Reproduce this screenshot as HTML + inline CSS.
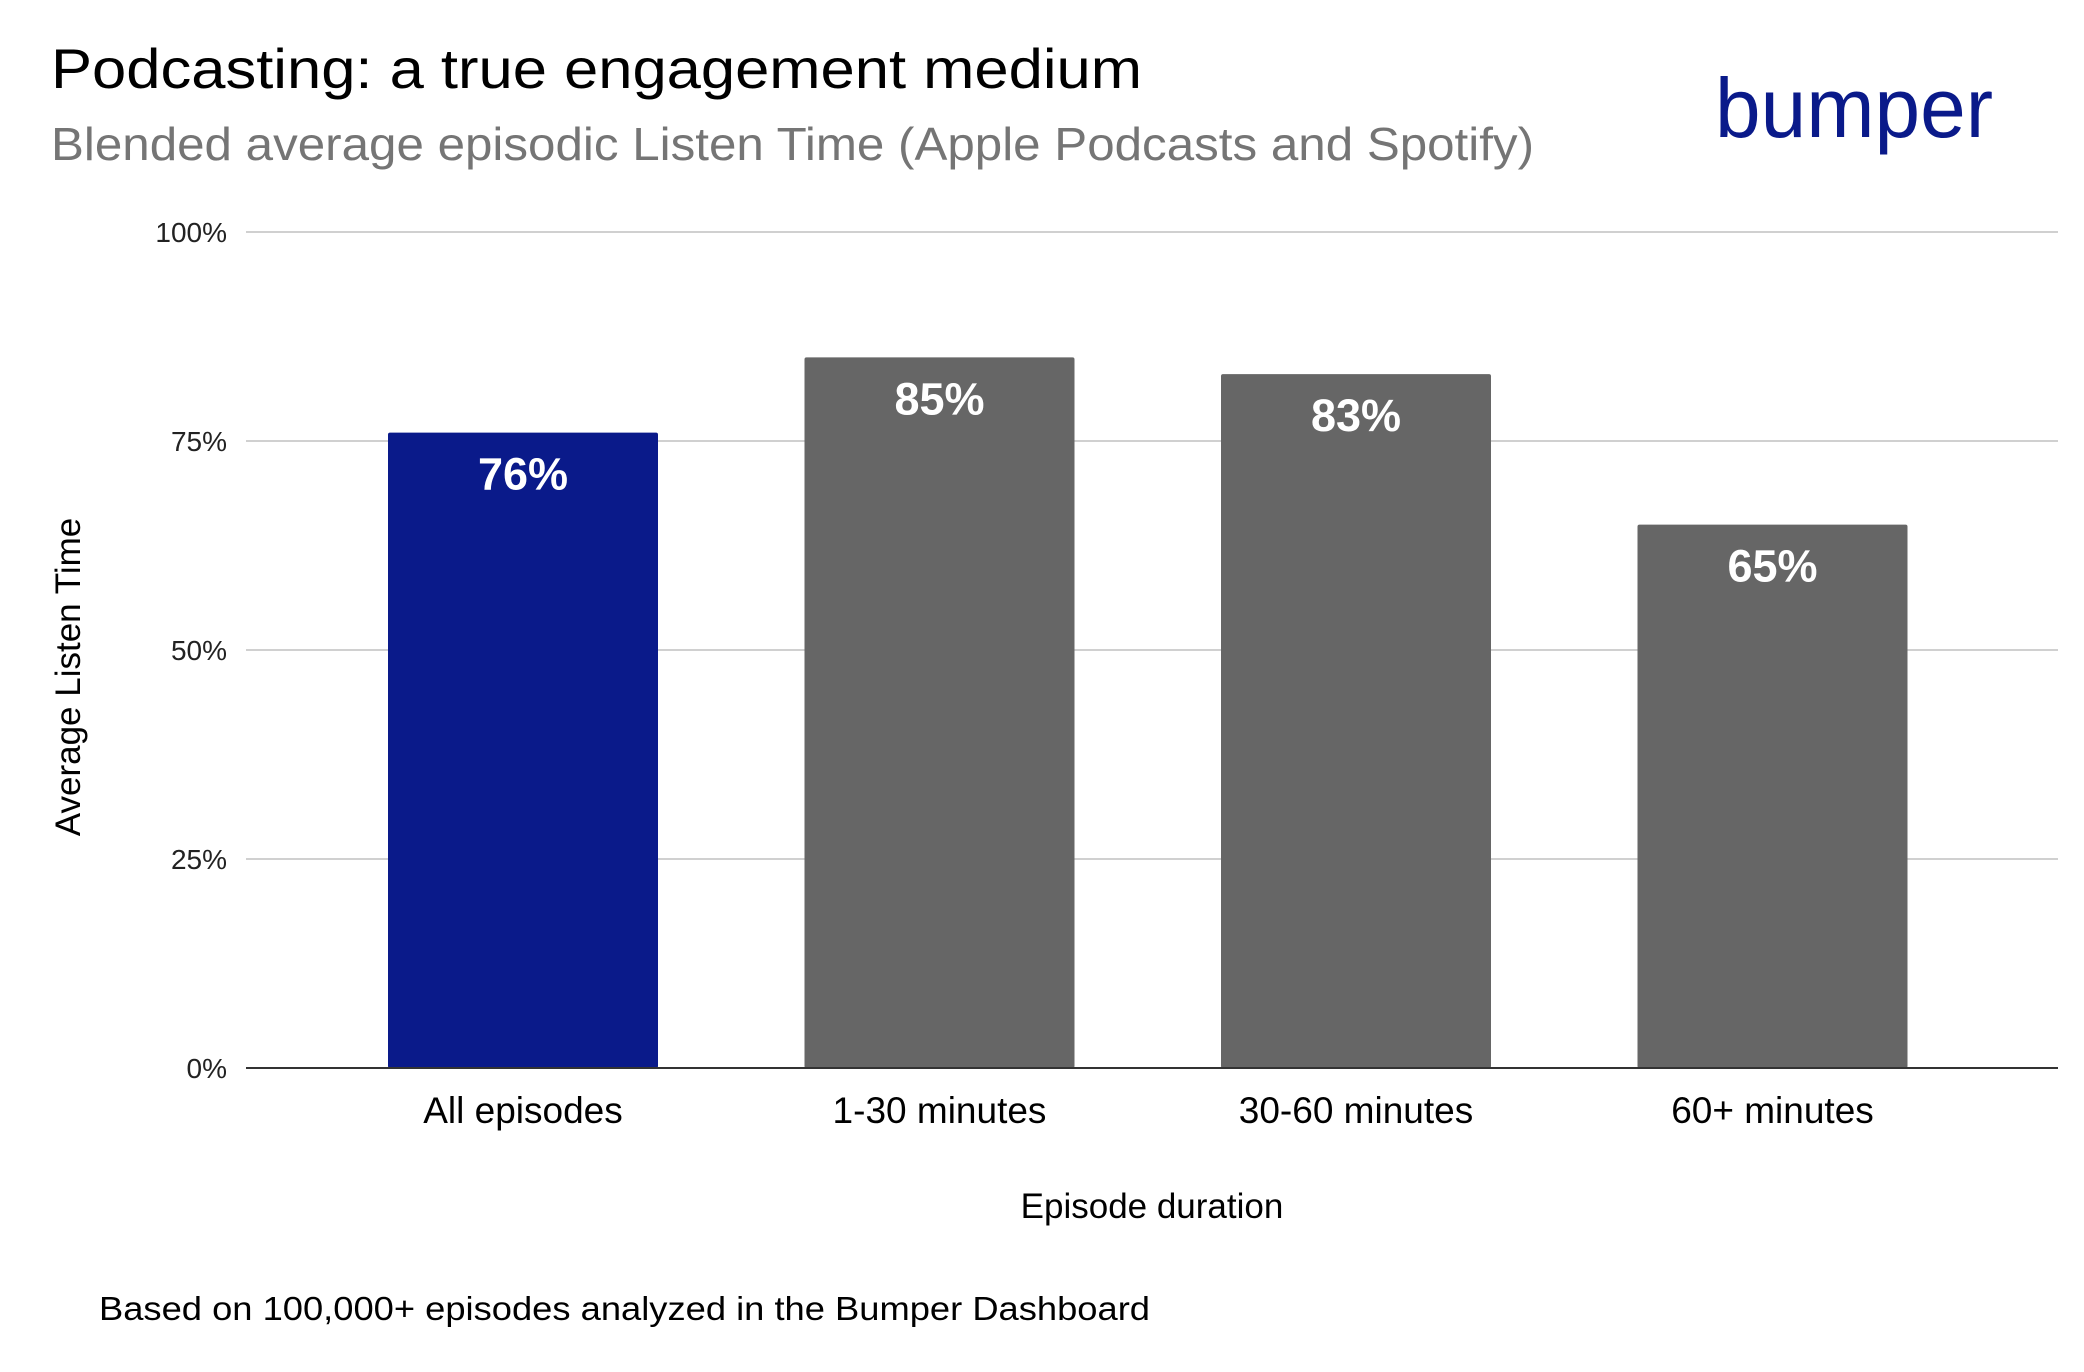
<!DOCTYPE html>
<html><head><meta charset="utf-8"><style>
html,body{margin:0;padding:0;background:#fff;}
svg{display:block;font-family:"Liberation Sans",Arial,sans-serif;}
</style></head><body>
<svg id="chart" width="2084" height="1372" viewBox="0 0 2084 1372">
<text x="51" y="88" font-size="56" fill="#000" textLength="1091" lengthAdjust="spacingAndGlyphs">Podcasting: a true engagement medium</text>
<text x="51" y="160" font-size="46" fill="#757575" textLength="1483" lengthAdjust="spacingAndGlyphs">Blended average episodic Listen Time (Apple Podcasts and Spotify)</text>
<text x="1715" y="137" font-size="84" fill="#0a1a8a" textLength="278" lengthAdjust="spacingAndGlyphs">bumper</text>
<g id="grid"></g>
<g id="bars"></g>
<line x1="246" x2="2058" y1="1068" y2="1068" stroke="#333" stroke-width="2"/>
<text x="1152" y="1218" font-size="35" text-anchor="middle" fill="#000">Episode duration</text>
<text transform="translate(80,677) rotate(-90)" font-size="35" text-anchor="middle" fill="#000">Average Listen Time</text>
<text x="99" y="1320" font-size="33" fill="#000" textLength="1051" lengthAdjust="spacingAndGlyphs">Based on 100,000+ episodes analyzed in the Bumper Dashboard</text>
</svg>
<script>
const categories = ["All episodes","1-30 minutes","30-60 minutes","60+ minutes"];
const values = [76,85,83,65];
const valueLabels = ["76%","85%","83%","65%"];
const yTicks = [0,25,50,75,100];
const yTickLabels = ["0%","25%","50%","75%","100%"];

const NS="http://www.w3.org/2000/svg";
const y0=1068, y100=232;
function yScale(v){return y0-(y0-y100)*v/100;}
function xCenter(i){return 523+i*416.5;}
const barW=270;
const grid=document.getElementById('grid'), bars=document.getElementById('bars');
function mk(tag,attrs,parent){const e=document.createElementNS(NS,tag);for(const k in attrs)e.setAttribute(k,attrs[k]);parent.appendChild(e);return e;}
yTicks.forEach((t,i)=>{
  if(t>0){const l=mk('line',{x1:246,x2:2058,y1:yScale(t),y2:yScale(t),stroke:'#d0d0d0','stroke-width':2},grid);
  
  }
  const tx=mk('text',{x:227,y:yScale(t)+10,'font-size':28,'text-anchor':'end',fill:'#222'},grid);
  tx.textContent=yTickLabels[i];
  
  
});
categories.forEach((c,i)=>{
  const cx=xCenter(i), top=yScale(values[i]);
  const r=mk('rect',{x:cx-barW/2,y:top,width:barW,height:y0-top,fill:i===0?'#0a1a8a':'#666666',rx:2},bars);
  
  
  const v=mk('text',{x:cx,y:top+57,'font-size':45,'font-weight':'bold','text-anchor':'middle',fill:'#fff'},bars);
  v.textContent=valueLabels[i];
  
  
  const cl=mk('text',{x:cx,y:1123,'font-size':37,'text-anchor':'middle',fill:'#000'},bars);
  cl.textContent=c;
  
  
});
</script>
</body></html>
